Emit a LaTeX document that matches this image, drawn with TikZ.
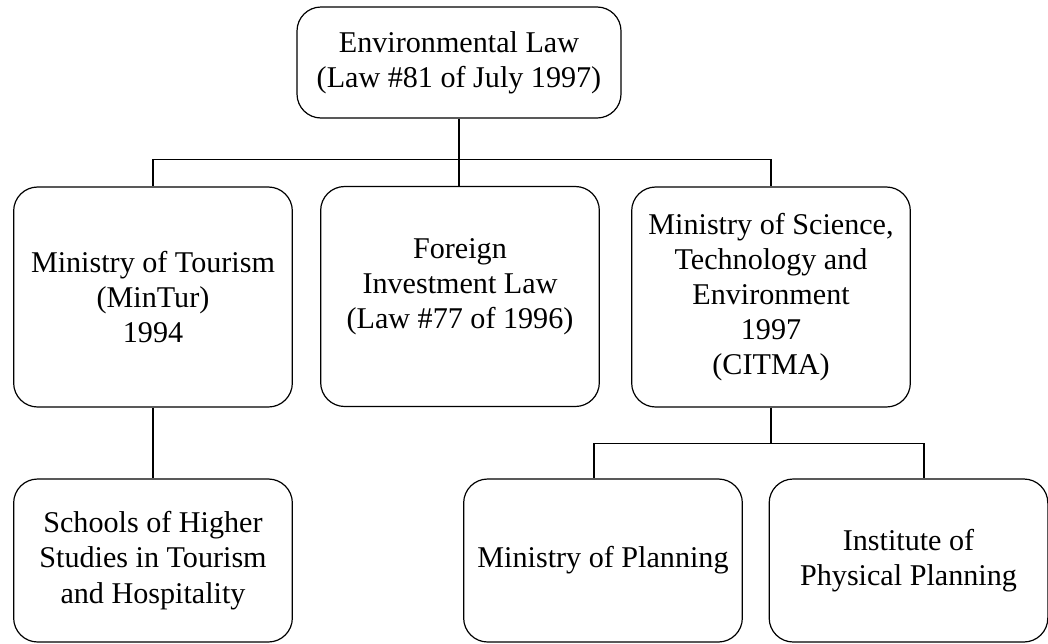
\documentclass[tikz,border=0pt]{standalone}
\usepackage{fontspec}
\setmainfont{Liberation Serif}
\usepackage{tikz}
\tikzset{
    orgnode/.style = {align=center, inner sep=0pt, text centered, font=\fontsize{22.6}{26.4}\selectfont},
    top_node/.style = {orgnode, rectangle, rounded corners=18pt, draw=black, line width=0.9pt, minimum width=243pt, minimum height=83.25pt},
    mid_node/.style = {orgnode, rectangle, rounded corners=18pt, draw=black, line width=0.9pt, minimum width=209pt, minimum height=165pt},
    low_node/.style = {orgnode, rectangle, rounded corners=18pt, draw=black, line width=0.9pt, minimum width=209pt, minimum height=122.25pt}
}

\begin{document}
\begin{tikzpicture}
            [-, line width=0.9pt, x=0.75pt, y=-0.75pt]

            \useasboundingbox (0,0) rectangle (1048,643);

            \node [top_node] (envlaw) at (459,62.5) {Environmental Law\\(Law \#81 of July 1997)};

            \node [mid_node] (mintur) at (153,297) {Ministry of Tourism\\(MinTur)\\1994};
            \node [mid_node] (invlaw) at (460,296.5) {Foreign\\Investment Law\\(Law \#77 of 1996)\\[-6.8pt]};
            \node [mid_node] (citma) at (771,297) {Ministry of Science,\\Technology and\\Environment\\1997\\(CITMA)};

            \node [low_node] (schools) at (153,560.5) {Schools of Higher\\Studies in Tourism\\and Hospitality};
            \node [low_node] (minplan) at (603,560.5) {Ministry of Planning};
            \node [low_node] (physplan) at (908.5,560.5) {Institute of\\Physical Planning};

            % upper level
            \draw (envlaw.south) -- ++(0,41) coordinate (busup);
            \draw (busup) -| (mintur.north);
            \draw (busup) -| (citma.north);
            \draw (busup) -- (busup |- invlaw.north);

            % lower level
            \draw (mintur.south) -- (schools.north);
            \draw (citma.south) -- ++(0,36) coordinate (buslow);
            \draw (buslow) -| ([xshift=-6.75pt]minplan.north);
            \draw (buslow) -| ([xshift=11.6pt]physplan.north);
        \end{tikzpicture}
\end{document}
